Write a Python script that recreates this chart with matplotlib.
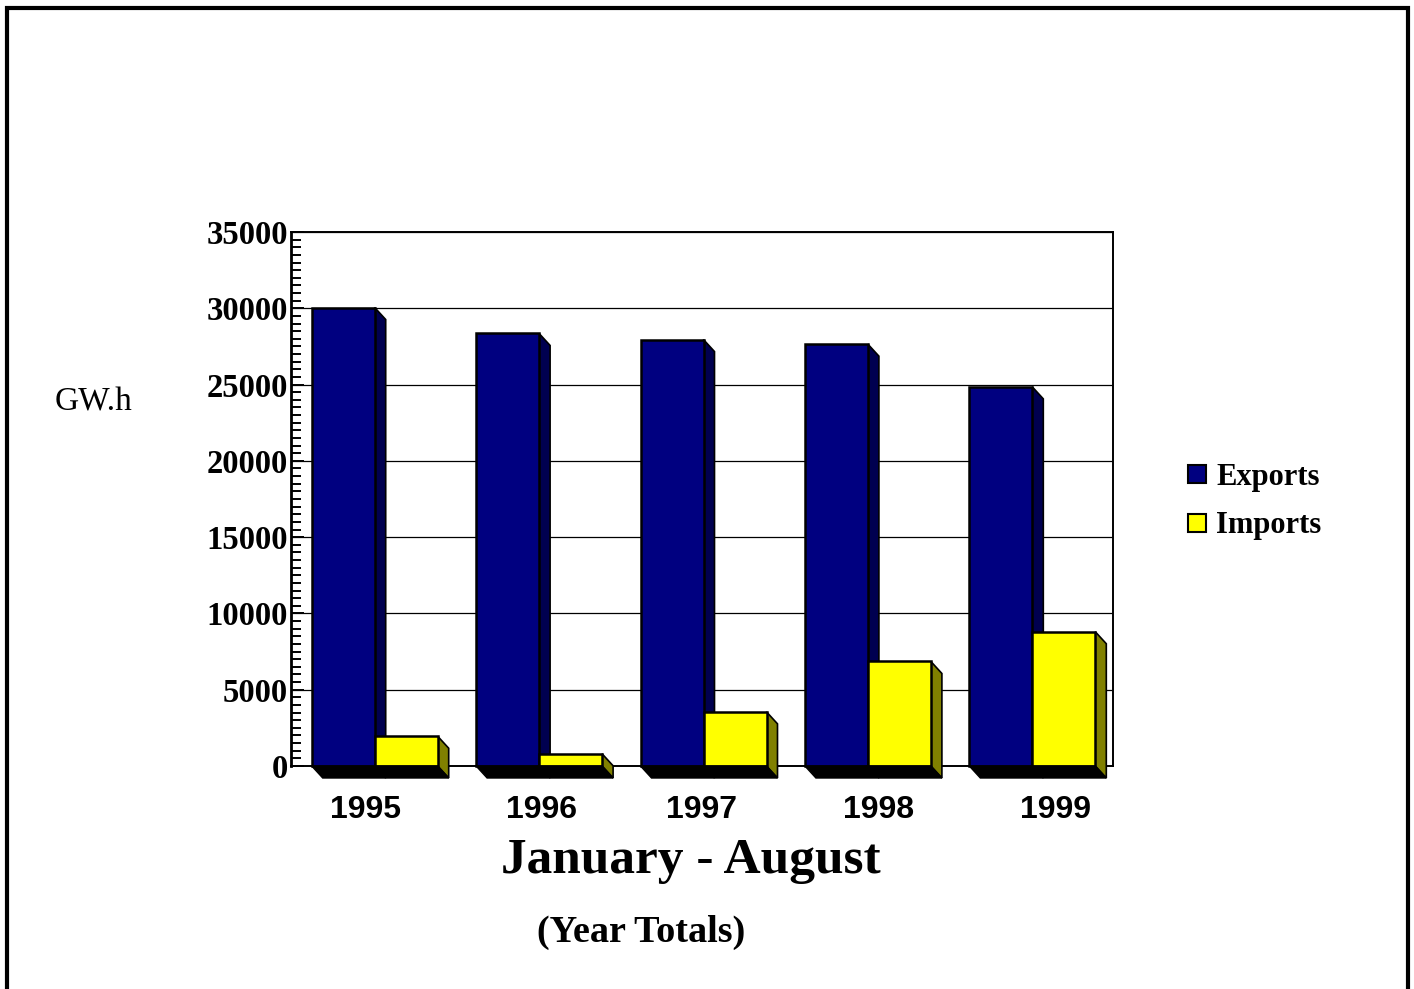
import numpy as np
import matplotlib
matplotlib.use('Agg')
import matplotlib.pyplot as plt
from matplotlib.patches import Polygon, Rectangle

years = ['1995', '1996', '1997', '1998', '1999']
exports = [30050, 28350, 27950, 27650, 24850]
imports = [1950, 800, 3550, 6850, 8800]
yearLabelX = [366, 542, 702, 879, 1055]

W, H = 1414, 989
navy = '#000080'
navySide = '#000050'
yellow = '#ffff00'
yellowSide = '#808000'
serif = 'Liberation Serif'

fig = plt.figure(figsize=(W / 100, H / 100), dpi=100)
ax = fig.add_axes([291 / W, 1 - 766 / H, 822 / W, 534 / H])
ax.set_xlim(-0.5, 4.5)
ax.set_ylim(0, 35000)

# page border
fig.add_artist(Rectangle((6.5 / W, -0.02), 1401 / W, 1.02 - 8.5 / H, transform=fig.transFigure,
                         fill=False, edgecolor='black', linewidth=3))

barWidth = 63 / 164.4
groupShift = 1.5 / 164.4
depthX = 11 / 164.4
depthY = 12 / 534 * 35000


# Draws one fake 3D bar: front face plus a shaded side going down and right.
def draw3dBar(x0, value, face, side):
    x1 = x0 + barWidth
    ax.add_patch(Polygon([(x1, value), (x1 + depthX, value - depthY), (x1 + depthX, -depthY), (x1, 0)],
                         facecolor=side, edgecolor='black', linewidth=1.2, zorder=3, clip_on=False))
    ax.add_patch(Rectangle((x0, 0), barWidth, value, facecolor=face, edgecolor='black',
                           linewidth=1.8, zorder=4, clip_on=False))


xs = np.arange(len(years)) + groupShift
for i, x in enumerate(xs):
    draw3dBar(x - barWidth, exports[i], navy, navySide)
    draw3dBar(x, imports[i], yellow, yellowSide)
    # black floor under each pair
    left = x - barWidth
    right = x + barWidth
    ax.add_patch(Polygon([(left, 0), (left + depthX, -depthY), (right + depthX, -depthY), (right, 0)],
                         facecolor='black', edgecolor='black', linewidth=1, zorder=5, clip_on=False))

ax.set_axisbelow(True)
ax.yaxis.grid(True, color='black', linewidth=0.9)
ax.set_yticks(np.arange(0, 35001, 5000))
ax.set_yticks(np.arange(0, 35001, 500), minor=True)
ax.set_xticks([])
ax.tick_params(axis='y', which='major', length=9, width=1.4, pad=2, direction='in')
ax.tick_params(axis='y', which='minor', length=7, width=1.4, direction='in')
for label in ax.get_yticklabels():
    label.set_fontfamily(serif)
    label.set_fontweight('bold')
    label.set_fontsize(23.5)
for spine in ax.spines.values():
    spine.set_linewidth(1.4)
ax.spines['left'].set_linewidth(2)

for label, px in zip(years, yearLabelX):
    fig.text(px / W, 1 - 810 / H, label, family='Liberation Sans', fontweight='bold', fontsize=23,
             ha='center', va='center')

fig.text(691 / W, 1 - 861 / H, 'January - August', family=serif, fontweight='bold', fontsize=37,
         ha='center', va='center')
fig.text(641 / W, 1 - 932 / H, '(Year Totals)', family=serif, fontweight='bold', fontsize=27.5,
         ha='center', va='center')
fig.text(93.5 / W, 1 - 402 / H, 'GW.h', family=serif, fontsize=24, ha='center', va='center')

# legend drawn by hand, the swatches sit close to the text
for name, color, boxY, textY in [('Exports', navy, 474, 478), ('Imports', yellow, 522.5, 525)]:
    fig.add_artist(Rectangle((1187.5 / W, 1 - (boxY + 9) / H), 18 / W, 18 / H, transform=fig.transFigure,
                             facecolor=color, edgecolor='black', linewidth=1.5))
    fig.text(1216 / W, 1 - textY / H, name, family=serif, fontweight='bold', fontsize=22,
             ha='left', va='center')

fig.savefig('out.png', dpi=100)
